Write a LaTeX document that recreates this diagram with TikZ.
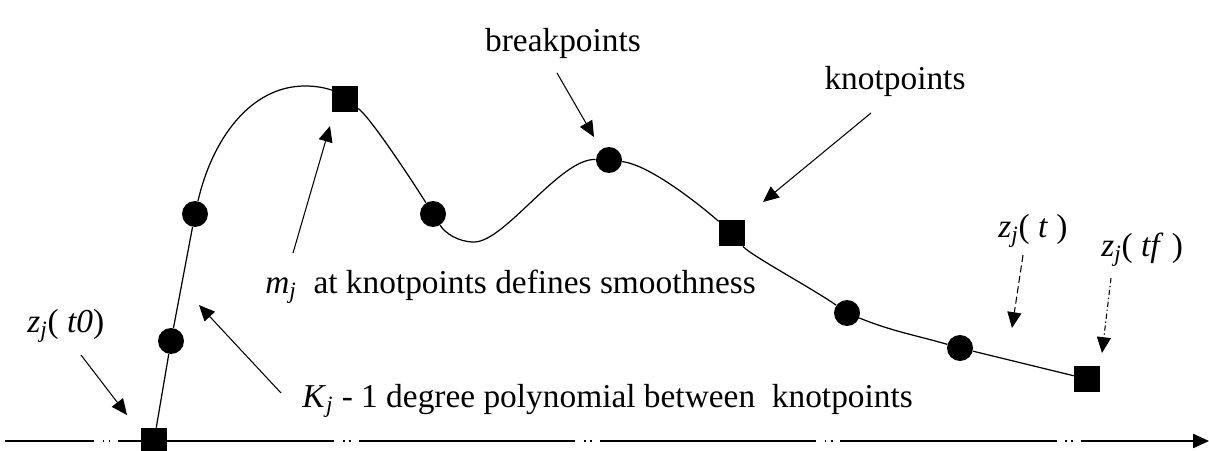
\documentclass[tikz,border=0pt]{standalone}
\usepackage{fontspec}
\setmainfont{Liberation Serif}
\usetikzlibrary{arrows.meta}

\begin{document}
\begin{tikzpicture}[
        x=0.02cm, y=0.02cm,
        nudo/.style={fill=black, rectangle, inner sep=0pt, minimum size=0.52cm},
        quiebre/.style={fill=black, circle, inner sep=0pt, minimum size=0.52cm},
        rotulo/.style={inner sep=0pt, font=\fontsize{19}{22}\selectfont},
        curva/.style={line width=0.7pt},
        eje/.style={-{Triangle[length=9pt, width=8pt]}, line width=0.9pt,
            dash pattern=on 123pt off 5pt on 1pt off 2.5pt on 1pt off 4.5pt, dash phase=72.5pt},
        flecha/.style={-{Triangle[length=9pt, width=8pt]}, line width=0.6pt}
    ]
    \useasboundingbox (0,0) rectangle (1209,450);

    % eje
    \coordinate (e0) at (5,9);
    \coordinate (e1) at (1209,9);
    \draw[eje] (e0) -- (e1);

    % nudos y puntos de quiebre
    \node[nudo] (s1) at (154,9) {};
    \node[quiebre] (c1) at (171,109) {};
    \node[quiebre] (c2) at (195,236) {};
    \node[nudo] (s2) at (345,351) {};
    \node[quiebre] (c3) at (433,236) {};
    \node[quiebre] (c4) at (609,290) {};
    \node[nudo] (s3) at (732,217) {};
    \node[quiebre] (c5) at (847,137) {};
    \node[quiebre] (c6) at (960,102) {};
    \node[nudo] (s4) at (1087,71) {};
    \coordinate (pico) at (305,364);
    \coordinate (valle) at (474,208);

    % curva
    \draw[curva] (s1) -- (c1) -- (c2)
        .. controls (212,310) and (250,364) .. (pico)
        .. controls (325,364) and (335,358) .. (s2)
        .. controls (370,333) and (411,271) .. (c3)
        .. controls (445,217) and (458,208) .. (valle)
        .. controls (505,208) and (560,292) .. (c4)
        .. controls (650,285) and (700,245) .. (s3)
        .. controls (750,195) and (815,160) .. (c5)
        to[out=-22, in=164] (c6) -- (s4);

    % rotulos
    \node[rotulo, anchor=base] (bp) at (563,398) {breakpoints};
    \node[rotulo, anchor=base] (kp) at (895,360) {knotpoints};
    \node[rotulo, anchor=base west] (mj) at (265,157) {\textit{m}\textsubscript{\textit{j}}\ \ at knotpoints defines smoothness};
    \node[rotulo, anchor=base west] (kj) at (302,43) {\textit{K}\textsubscript{\textit{j}} - 1 degree polynomial between\ \ knotpoints};
    \node[rotulo, anchor=base west] (z0) at (27,118) {\textit{z}\textsubscript{\textit{j}}( \textit{t0})};
    \node[rotulo, anchor=base west] (zt) at (998,213) {\textit{z}\textsubscript{\textit{j}}( \textit{t} )};
    \node[rotulo, anchor=base west] (ztf) at (1101,194) {\textit{z}\textsubscript{\textit{j}}( \textit{tf} )};

    % flechas
    \coordinate (bp-a) at (557,377);  \coordinate (bp-b) at (594,313);
    \coordinate (kp-a) at (871,337);  \coordinate (kp-b) at (763,248);
    \coordinate (mj-a) at (293,197);  \coordinate (mj-b) at (330,324);
    \coordinate (kj-a) at (281,57);   \coordinate (kj-b) at (199,145);
    \coordinate (z0-a) at (81,95);    \coordinate (z0-b) at (127,35);
    \coordinate (zt-a) at (1023,195); \coordinate (zt-b) at (1012,122);
    \coordinate (ztf-a) at (1111,172); \coordinate (ztf-b) at (1102,97);
    \draw[flecha] (bp-a) -- (bp-b);
    \draw[flecha] (kp-a) -- (kp-b);
    \draw[flecha] (mj-a) -- (mj-b);
    \draw[flecha] (kj-a) -- (kj-b);
    \draw[flecha] (z0-a) -- (z0-b);
    \draw[flecha, dash pattern=on 4pt off 2pt] (zt-a) -- (zt-b);
    \draw[flecha, dash pattern=on 3pt off 1.5pt on 0.8pt off 1.5pt] (ztf-a) -- (ztf-b);
\end{tikzpicture}
\end{document}
